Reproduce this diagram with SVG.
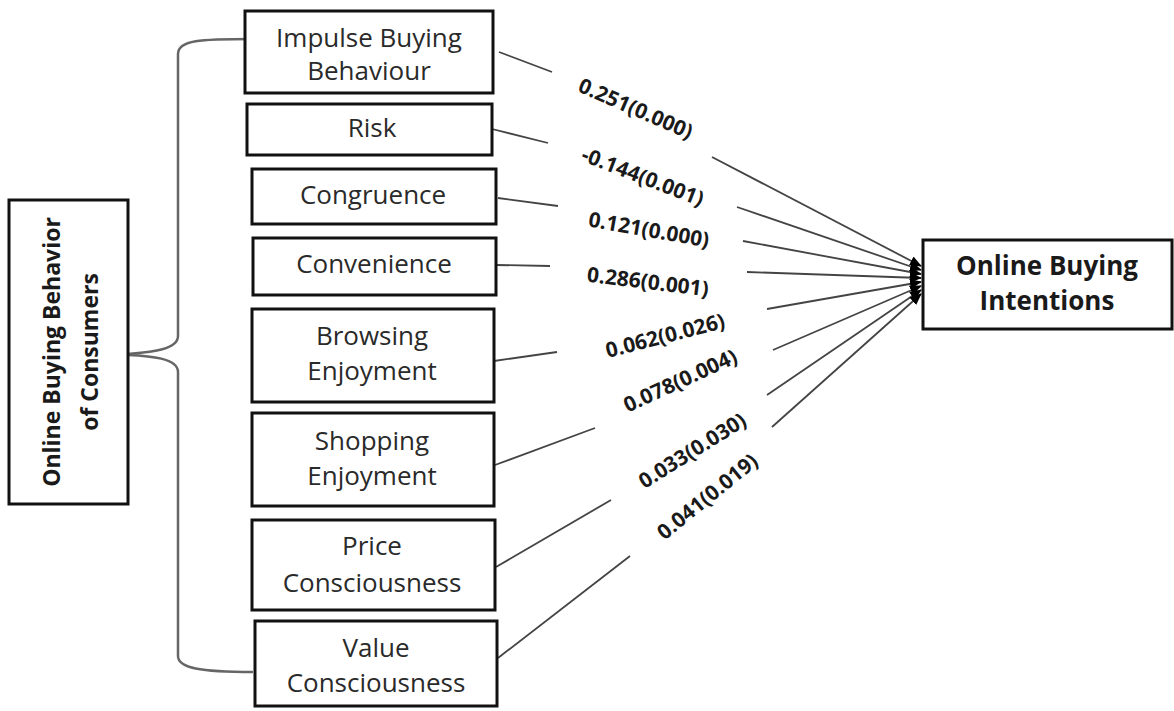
<svg xmlns="http://www.w3.org/2000/svg" width="1174" height="711" viewBox="0 0 1174 711">
<style>
.box{fill:#fff;stroke:#111;stroke-width:3}
.bt{font-family:"Open Sans","Liberation Sans",sans-serif;font-size:26px;fill:#2a2a2a;text-anchor:middle}
.bb{font-family:"Open Sans","Liberation Sans",sans-serif;font-size:23px;font-weight:bold;fill:#1a1a1a;text-anchor:middle}
.lbl{font-family:"Open Sans","Liberation Sans",sans-serif;font-size:21px;font-weight:bold;fill:#1a1a1a;text-anchor:middle;dominant-baseline:central}
.ln{fill:none;stroke:#444;stroke-width:1.8}
.br{fill:none;stroke:#666;stroke-width:2.5}
</style>
<defs>
<marker id="ah" markerWidth="12" markerHeight="12" refX="11" refY="6" orient="auto" markerUnits="userSpaceOnUse">
<path d="M0,1 L12,6 L0,11 Z" fill="#000"/>
</marker>
</defs>
<rect width="1174" height="711" fill="#fff"/>
<g id="brace">
<path class="br" d="M253,39 C200,39 178,40 178,54 L178,336 C178,350 150,352 128,354"/>
<path class="br" d="M128,355 C150,356 178,358 178,372 L178,656 C178,668 200,672 253,672"/>
</g>
<g id="connectors">
<path class="ln" d="M499,52 L552,72"/>
<path class="ln" d="M712,157 L921,266" marker-end="url(#ah)"/>
<path class="ln" d="M492,129 L548,143"/>
<path class="ln" d="M737,207 L921,270" marker-end="url(#ah)"/>
<path class="ln" d="M498,198 L558,206"/>
<path class="ln" d="M743,241 L921,274" marker-end="url(#ah)"/>
<path class="ln" d="M496,265 L550,266"/>
<path class="ln" d="M747,272 L921,278" marker-end="url(#ah)"/>
<path class="ln" d="M494,361 L557,352"/>
<path class="ln" d="M767,309 L921,282" marker-end="url(#ah)"/>
<path class="ln" d="M495,465 L595,428"/>
<path class="ln" d="M773,350 L921,286" marker-end="url(#ah)"/>
<path class="ln" d="M496,567 L611,500"/>
<path class="ln" d="M767,395 L921,290" marker-end="url(#ah)"/>
<path class="ln" d="M498,658 L630,556"/>
<path class="ln" d="M772,427 L921,294" marker-end="url(#ah)"/>
<text class="lbl" transform="translate(636,108) rotate(23.5)">0.251(0.000)</text>
<text class="lbl" transform="translate(643,176) rotate(21)">-0.144(0.001)</text>
<text class="lbl" transform="translate(649,229) rotate(10)">0.121(0.000)</text>
<text class="lbl" transform="translate(648,281) rotate(7)">0.286(0.001)</text>
<text class="lbl" transform="translate(665,335) rotate(-14.5)">0.062(0.026)</text>
<text class="lbl" transform="translate(680,380) rotate(-24.5)">0.078(0.004)</text>
<text class="lbl" transform="translate(692,450) rotate(-32)">0.033(0.030)</text>
<text class="lbl" transform="translate(707,496) rotate(-39)">0.041(0.019)</text>
</g>
<g id="n-left">
<rect class="box" x="9" y="200" width="119" height="304"/>
<text class="bb" transform="translate(60,352) rotate(-90)">Online Buying Behavior</text>
<text class="bb" transform="translate(98,352) rotate(-90)">of Consumers</text>
</g>
<g id="n-impulse">
<rect class="box" x="245" y="11" width="248" height="82"/>
<text class="bt" x="369" y="47">Impulse Buying</text>
<text class="bt" x="369" y="80">Behaviour</text>
</g>
<g id="n-risk">
<rect class="box" x="247" y="104" width="245" height="51"/>
<text class="bt" x="372" y="137">Risk</text>
</g>
<g id="n-congruence">
<rect class="box" x="252" y="169" width="244" height="55"/>
<text class="bt" x="373" y="204">Congruence</text>
</g>
<g id="n-convenience">
<rect class="box" x="253" y="238" width="243" height="57"/>
<text class="bt" x="374" y="273">Convenience</text>
</g>
<g id="n-browsing">
<rect class="box" x="252" y="309" width="242" height="93"/>
<text class="bt" x="372" y="345">Browsing</text>
<text class="bt" x="372" y="380">Enjoyment</text>
</g>
<g id="n-shopping">
<rect class="box" x="252" y="413" width="242" height="93"/>
<text class="bt" x="372" y="450">Shopping</text>
<text class="bt" x="372" y="485">Enjoyment</text>
</g>
<g id="n-price">
<rect class="box" x="252" y="520" width="243" height="90"/>
<text class="bt" x="372" y="555">Price</text>
<text class="bt" x="372" y="592">Consciousness</text>
</g>
<g id="n-value">
<rect class="box" x="255" y="621" width="242" height="85"/>
<text class="bt" x="376" y="657">Value</text>
<text class="bt" x="376" y="692">Consciousness</text>
</g>
<g id="n-right">
<rect class="box" x="923" y="240" width="249" height="89"/>
<text class="bb" x="1047" y="275" style="font-size:26px">Online Buying</text>
<text class="bb" x="1047" y="310" style="font-size:26px">Intentions</text>
</g>
</svg>
